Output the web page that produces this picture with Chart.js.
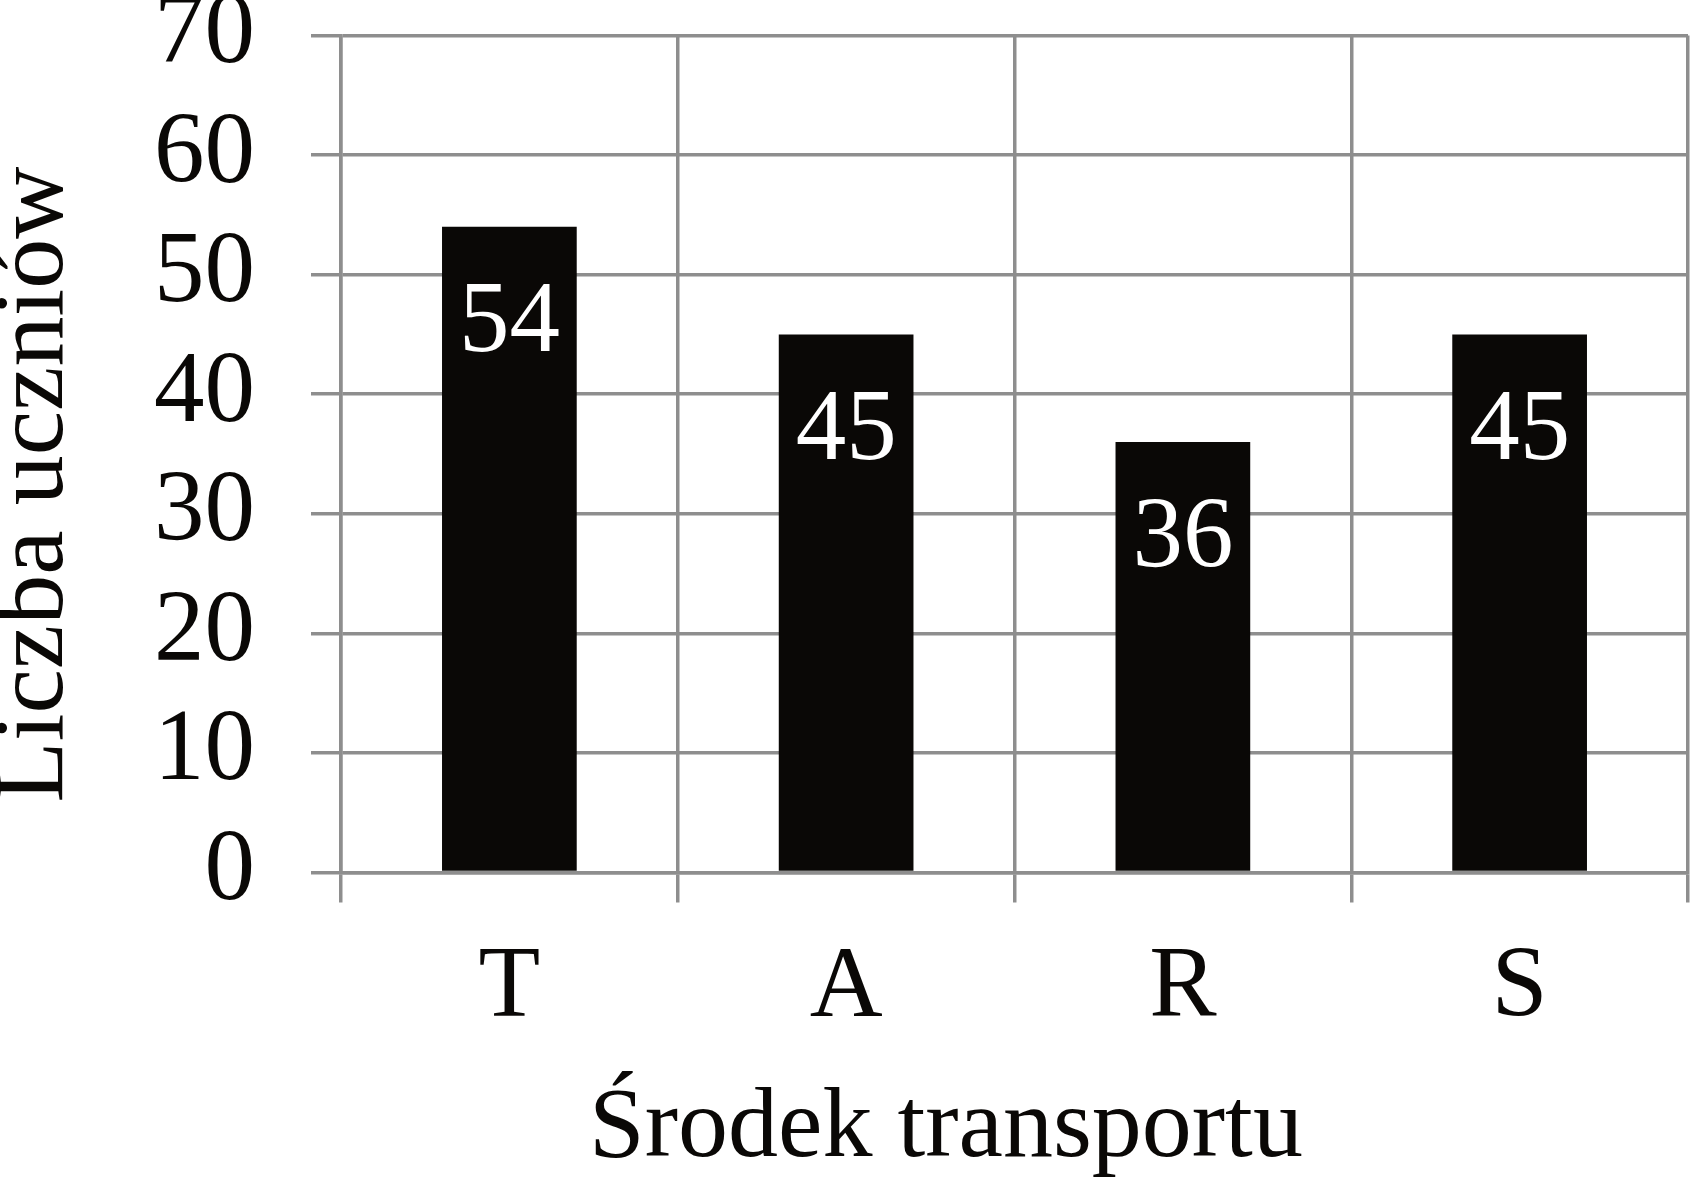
<!DOCTYPE html>
<html><head><meta charset="utf-8">
<script src="https://cdn.jsdelivr.net/npm/chart.js@4.4.1/dist/chart.umd.min.js"></script>
<style>html,body{margin:0;padding:0;background:#fff}canvas{display:block}</style>
</head><body>
<canvas id="c" width="1691" height="1184" style="width:1691px;height:1184px"></canvas>
<script>
const categories = ['T', 'A', 'R', 'S'];
const values = [54, 45, 36, 45];
const yTicks = [0, 10, 20, 30, 40, 50, 60, 70];
const xTitle = 'Środek transportu';
const yTitle = 'Liczba uczniów';

const FONT = '"Liberation Serif", "Times New Roman", serif';
const INK = '#0a0806';
const GRID = '#8e8e8e';
const FS = 101;

const valueLabels = {
  id: 'valueLabels',
  afterDatasetsDraw(chart) {
    const ctx = chart.ctx;
    const meta = chart.getDatasetMeta(0);
    ctx.save();
    ctx.fillStyle = '#ffffff';
    ctx.font = FS + 'px ' + FONT;
    ctx.textAlign = 'center';
    ctx.textBaseline = 'middle';
    meta.data.forEach((bar, i) => {
      ctx.fillText(String(values[i]), bar.x, bar.y + 98);
    });
    ctx.restore();
  }
};

const axisTitles = {
  id: 'axisTitles',
  afterDraw(chart) {
    const ctx = chart.ctx;
    const a = chart.chartArea;
    ctx.save();
    ctx.fillStyle = INK;
    ctx.font = '100px ' + FONT;
    ctx.textAlign = 'center';
    ctx.textBaseline = 'middle';
    ctx.fillText(xTitle, a.left + 605, chart.height - 54.5);
    ctx.translate(36, a.top + 449);
    ctx.rotate(-Math.PI / 2);
    ctx.fillText(yTitle, 0, 0);
    ctx.restore();
  }
};

new Chart(document.getElementById('c'), {
  type: 'bar',
  data: {
    labels: categories,
    datasets: [{
      data: values,
      backgroundColor: INK,
      borderWidth: 0,
      barPercentage: 0.4,
      categoryPercentage: 1.0
    }]
  },
  options: {
    responsive: false,
    devicePixelRatio: 1,
    animation: false,
    layout: { padding: { left: 0, top: 35.5, right: 3, bottom: 0 } },
    plugins: { legend: { display: false }, tooltip: { enabled: false } },
    scales: {
      x: {
        grid: { display: true, color: GRID, lineWidth: 3.5, tickLength: 30, drawTicks: true, offset: true },
        border: { display: true, color: GRID, width: 3.5 },
        ticks: { color: INK, font: { family: FONT, size: FS, lineHeight: 1 }, padding: 36, maxRotation: 0, autoSkip: false },
        afterFit(scale) { scale.height = 311.5; scale.paddingLeft = 0; scale.paddingRight = 0; }
      },
      y: {
        min: yTicks[0],
        max: yTicks[yTicks.length - 1],
        grid: { display: true, color: GRID, lineWidth: 3.5, tickLength: 30, drawTicks: true },
        border: { display: true, color: GRID, width: 3.5 },
        ticks: { stepSize: yTicks[1] - yTicks[0], color: INK, font: { family: FONT, size: FS, lineHeight: 1 }, padding: 56, autoSkip: false },
        afterFit(scale) { scale.width = 341; scale.paddingTop = 0; scale.paddingBottom = 0; }
      }
    }
  },
  plugins: [valueLabels, axisTitles]
});
</script>
</body></html>
